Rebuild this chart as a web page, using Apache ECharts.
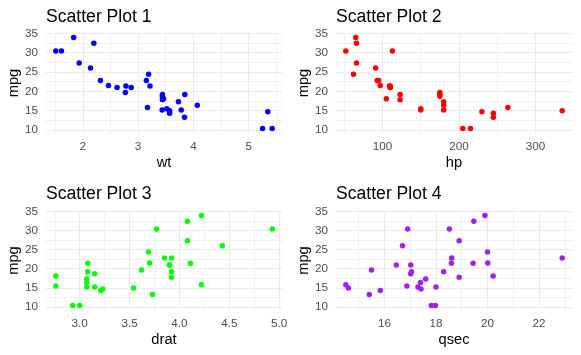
<!DOCTYPE html>
<html><head><meta charset="utf-8">
<script src="https://cdn.jsdelivr.net/npm/echarts@6/dist/echarts.min.js"></script>
<style>html,body{margin:0;padding:0;background:#fff}#c{width:581px;height:355px}</style>
</head><body><div id="c"></div>
<script>
// mtcars values
const mpg  = [21.0,21.0,22.8,21.4,18.7,18.1,14.3,24.4,22.8,19.2,17.8,16.4,17.3,15.2,10.4,10.4,14.7,32.4,30.4,33.9,21.5,15.5,15.2,13.3,19.2,27.3,26.0,30.4,15.8,19.7,15.0,21.4];
const wt   = [2.620,2.875,2.320,3.215,3.440,3.460,3.570,3.190,3.150,3.440,3.440,4.070,3.730,3.780,5.250,5.424,5.345,2.200,1.615,1.835,2.465,3.520,3.435,3.840,3.845,1.935,2.140,1.513,3.170,2.770,3.570,2.780];
const hp   = [110,110,93,110,175,105,245,62,95,123,123,180,180,180,205,215,230,66,52,65,97,150,150,245,175,66,91,113,264,175,335,109];
const drat = [3.90,3.90,3.85,3.08,3.15,2.76,3.21,3.69,3.92,3.92,3.92,3.07,3.07,3.07,2.93,3.00,3.23,4.08,4.93,4.22,3.70,2.76,3.15,3.73,3.08,4.08,4.43,3.77,4.22,3.62,3.54,4.11];
const qsec = [16.46,17.02,18.61,19.44,17.02,20.22,15.84,20.00,22.90,18.30,18.90,17.40,17.60,18.00,17.98,17.82,17.42,19.47,18.52,19.90,20.01,16.87,17.30,15.41,17.05,18.90,16.70,16.90,14.50,15.50,14.60,18.60];

const titles = ['Scatter Plot 1','Scatter Plot 2','Scatter Plot 3','Scatter Plot 4'];
const xNames = ['wt','hp','drat','qsec'];
const colors = ['#0000FF','#FF0000','#00FF00','#A020F0'];

const yTicks = [10,15,20,25,30,35];
const yMinor = [12.5,17.5,22.5,27.5,32.5];
const wtTicks = [2,3,4,5],           wtMinor = [1.5,2.5,3.5,4.5,5.5];
const hpTicks = [100,200,300],       hpMinor = [50,150,250];
const dratTicks = [3.0,3.5,4.0,4.5,5.0], dratMinor = [2.75,3.25,3.75,4.25,4.75];
const qsecTicks = [16,18,20,22],     qsecMinor = [15,17,19,21,23];

const yRange = [9.225, 35.075];
const xRanges = [[1.31745,5.61955],[37.85,349.15],[2.6515,5.0385],[14.08,23.32]];

const xs = [wt, hp, drat, qsec];
const xTicks = [wtTicks, hpTicks, dratTicks, qsecTicks];
const xMinor = [wtMinor, hpMinor, dratMinor, qsecMinor];
const xFmt = [v=>String(v), v=>String(v), v=>v.toFixed(1), v=>String(v)];

const FONT = '"Liberation Sans", Arial, sans-serif';
const grids = [
  {left:45, top:33, width:238, height:100},
  {left:335, top:33, width:238, height:100},
  {left:45, top:211, width:238, height:99},
  {left:335, top:211, width:238, height:99}
];
const titlePos = [[46,8],[336,8],[46,185],[336,185]];

const xAxes = [], yAxes = [], series = [], titleArr = [];
for (let i = 0; i < 4; i++) {
  xAxes.push({
    type:'value', gridIndex:i, min:xRanges[i][0], max:xRanges[i][1],
    name:xNames[i], nameLocation:'middle', nameGap:22,
    nameTextStyle:{color:'#000', fontSize:14.67, fontFamily:FONT},
    axisLine:{show:false}, axisTick:{show:false, customValues:xTicks[i]},
    axisLabel:{customValues:xTicks[i], formatter:xFmt[i], color:'#4D4D4D', fontSize:11.7, fontFamily:FONT, margin:8},
    splitLine:{show:true, lineStyle:{color:'#EBEBEB', width:1}}
  });
  yAxes.push({
    type:'value', gridIndex:i, min:yRange[0], max:yRange[1],
    name:'mpg', nameLocation:'middle', nameGap:22, nameRotate:90,
    nameTextStyle:{color:'#000', fontSize:14.67, fontFamily:FONT},
    axisLine:{show:false}, axisTick:{show:false, customValues:yTicks},
    axisLabel:{customValues:yTicks, color:'#4D4D4D', fontSize:11.7, fontFamily:FONT, margin:7},
    splitLine:{show:true, lineStyle:{color:'#EBEBEB', width:1}}
  });
  titleArr.push({
    text:titles[i], left:titlePos[i][0], top:titlePos[i][1], padding:0,
    textStyle:{color:'#000', fontSize:17.6, fontWeight:'normal', fontFamily:FONT}
  });
  series.push({
    type:'scatter', xAxisIndex:i, yAxisIndex:i, symbolSize:5.5,
    itemStyle:{color:colors[i], opacity:1},
    data: xs[i].map((x,k)=>[x, mpg[k]]), silent:true, animation:false
  });
}
for (let i = 0; i < 4; i++) {
  xAxes.push({
    type:'value', gridIndex:i, min:xRanges[i][0], max:xRanges[i][1],
    axisLine:{show:false}, axisTick:{show:false, customValues:xMinor[i]},
    axisLabel:{show:false, customValues:xMinor[i]},
    splitLine:{show:true, lineStyle:{color:'#F0F0F0', width:1}}, z:0
  });
  yAxes.push({
    type:'value', gridIndex:i, min:yRange[0], max:yRange[1],
    axisLine:{show:false}, axisTick:{show:false, customValues:yMinor},
    axisLabel:{show:false, customValues:yMinor},
    splitLine:{show:true, lineStyle:{color:'#F0F0F0', width:1}}, z:0
  });
}

const chart = echarts.init(document.getElementById('c'), null, {renderer:'canvas'});
chart.setOption({
  animation:false,
  backgroundColor:'#fff',
  title:titleArr,
  grid:grids,
  xAxis:xAxes,
  yAxis:yAxes,
  series:series
});
</script></body></html>
